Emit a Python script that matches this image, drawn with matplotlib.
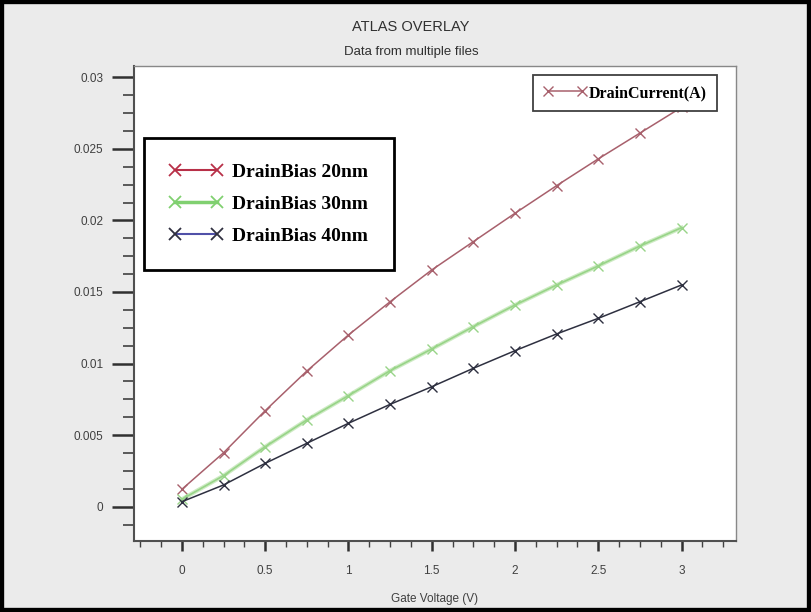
import numpy as np
import matplotlib
matplotlib.use("Agg")
from matplotlib import pyplot as plt
from matplotlib.lines import Line2D
from matplotlib.patches import Rectangle
from matplotlib.ticker import MultipleLocator

# gate voltage sweep
gate_v = [0, 0.25, 0.5, 0.75, 1.0, 1.25, 1.5, 1.75, 2.0, 2.25, 2.5, 2.75, 3.0]

# drain current (A) for each drain bias file
bias_20nm = [0.00122, 0.00377, 0.00671, 0.00948, 0.0120, 0.01432, 0.01654,
             0.01852, 0.0205, 0.02243, 0.0243, 0.0261, 0.0279]
bias_30nm = [0.00052, 0.00217, 0.00419, 0.00606, 0.00776, 0.0095, 0.01102,
             0.01258, 0.01409, 0.01549, 0.01682, 0.01821, 0.01949]
bias_40nm = [0.00035, 0.00152, 0.00303, 0.00443, 0.00583, 0.00715, 0.00838,
             0.00967, 0.0109, 0.01207, 0.01316, 0.01432, 0.01549]

labels = ["DrainBias 20nm", "DrainBias 30nm", "DrainBias 40nm"]

narrow = ["Liberation Sans Narrow", "Liberation Sans", "DejaVu Sans"]
serif = ["Liberation Serif", "DejaVu Serif"]

bg = "#ebebeb"
fig = plt.figure(figsize=(8.11, 6.12), dpi=100, facecolor=bg)
ax = fig.add_axes([0.1652, 0.1165, 0.7423, 0.7757])
ax.set_facecolor("white")

ax.plot(gate_v, bias_20nm, color="#a8606c", lw=1.1, marker="x", ms=7, mew=1.0)
ax.plot(gate_v, bias_30nm, color="#c2e6b6", lw=3.0, alpha=0.8)
ax.plot(gate_v, bias_30nm, color="#98d488", lw=1.2, marker="x", ms=7, mew=1.0)
ax.plot(gate_v, bias_40nm, color="#2e3040", lw=1.1, marker="x", ms=7, mew=1.0)

ax.set_xlim(-0.288, 3.327)
ax.set_ylim(-0.002375, 0.03079)

ax.xaxis.set_major_locator(MultipleLocator(0.5))
ax.xaxis.set_minor_locator(MultipleLocator(0.125))
ax.yaxis.set_major_locator(MultipleLocator(0.005))
ax.yaxis.set_minor_locator(MultipleLocator(0.00125))
ax.set_xticks([0, 0.5, 1, 1.5, 2, 2.5, 3])
ax.set_xticklabels(["0", "0.5", "1", "1.5", "2", "2.5", "3"])
ax.set_yticks([0, 0.005, 0.01, 0.015, 0.02, 0.025, 0.03])
ax.set_yticklabels(["0", "0.005", "0.01", "0.015", "0.02", "0.025", "0.03"])

ax.tick_params(axis="x", which="major", direction="out", length=7.5, width=1.8,
               color="#303030", pad=10, labelsize=8.5, labelcolor="#404040")
ax.tick_params(axis="x", which="minor", direction="out", length=4, width=1.0,
               color="#404040")
ax.tick_params(axis="y", which="major", direction="out", length=16, width=1.8,
               color="#303030", pad=6, labelsize=8.5, labelcolor="#404040")
ax.tick_params(axis="y", which="minor", direction="out", length=8, width=1.2,
               color="#404040")
for lab in ax.get_xticklabels() + ax.get_yticklabels():
    lab.set_family(narrow)

for side in ["left", "bottom"]:
    ax.spines[side].set_color("#505050")
    ax.spines[side].set_linewidth(1.5)
for side in ["top", "right"]:
    ax.spines[side].set_color("#888888")
    ax.spines[side].set_linewidth(1.0)

ax.set_xlabel("Gate Voltage (V)", family=narrow, fontsize=8.5, color="#404040",
              labelpad=11.5)

fig.text(411 / 811, 1 - 27 / 612, "ATLAS OVERLAY", ha="center", va="center",
         family=narrow, fontsize=10.5, color="#303030")
fig.text(411 / 811, 1 - 52 / 612, "Data from multiple files", ha="center",
         va="center", family=narrow, fontsize=9.5, color="#303030")

# legend: drain current
h1 = [Line2D([0], [0], color="#a8606c", lw=1.1, marker="x", ms=7, mew=1.0)]
leg1 = ax.legend(h1, ["DrainCurrent(A)"], loc="upper right",
                 bbox_to_anchor=(716.7 / 811, 1 - 75 / 612),
                 bbox_transform=fig.transFigure, numpoints=2,
                 prop={"family": serif, "weight": "bold", "size": 11.5},
                 handlelength=2.7, handletextpad=0.15, borderpad=0.62,
                 borderaxespad=0, fancybox=False, framealpha=1,
                 edgecolor="#404040")
leg1.get_frame().set_linewidth(1.3)
ax.add_artist(leg1)

# legend: drain bias
h2 = [Line2D([0], [0], color="#b83048", lw=1.5, marker="x", ms=9, mew=1.3),
      Line2D([0], [0], color="#80d070", lw=2.5, marker="x", ms=9, mew=1.3),
      Line2D([0], [0], color="#5050a8", lw=1.5, marker="x", ms=9, mew=1.3,
             markeredgecolor="#303040")]
leg2 = ax.legend(h2, labels, loc="upper left",
                 bbox_to_anchor=(144 / 811, 1 - 138 / 612),
                 bbox_transform=fig.transFigure, numpoints=2,
                 prop={"family": serif, "weight": "bold", "size": 14},
                 handlelength=2.75, handletextpad=0.5, borderpad=1.3,
                 labelspacing=0.74, borderaxespad=0, fancybox=False,
                 framealpha=1, edgecolor="black")
leg2.get_frame().set_linewidth(2.0)

# outer frame
fig.patches.append(Rectangle((0, 0), 1, 1, transform=fig.transFigure,
                             fill=False, edgecolor="black", lw=6))

fig.savefig("out.png", dpi=100, facecolor=bg)
